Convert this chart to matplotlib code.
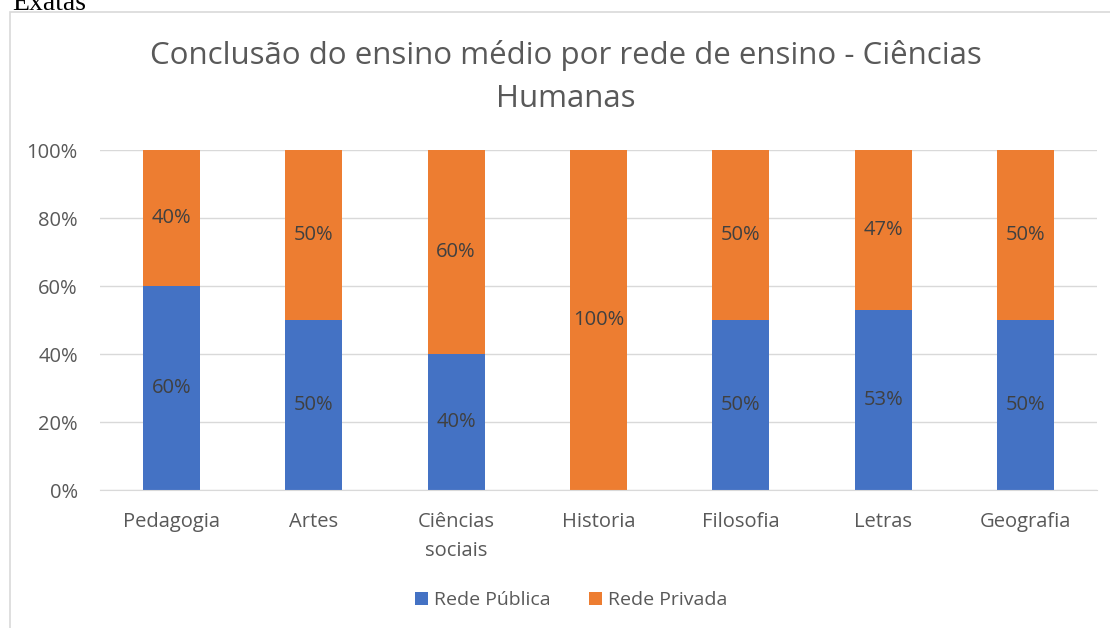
import matplotlib.pyplot as plt
import numpy as np
from matplotlib.patches import Rectangle

plt.rcParams['font.family'] = ['Open Sans', 'DejaVu Sans']

categorias = ["Pedagogia", "Artes", "Ciências\nsociais", "Historia", "Filosofia", "Letras", "Geografia"]
publica = [60, 50, 40, 0, 50, 53, 50]
privada = [40, 50, 60, 100, 50, 47, 50]
series = ["Rede Pública", "Rede Privada"]
cores = ["#4472C4", "#ED7D31"]

fig = plt.figure(figsize=(11.1, 6.28), dpi=100)
ax = fig.add_axes([100/1110, 1 - 490/628, 997/1110, 340/628])

x = np.arange(len(categorias))
largura = 0.4
b1 = ax.bar(x, publica, largura, color=cores[0], label=series[0], zorder=3)
b2 = ax.bar(x, privada, largura, bottom=publica, color=cores[1], label=series[1], zorder=3)

# rotulos de dados
for barras, vals, base in [(b1, publica, [0]*len(publica)), (b2, privada, publica)]:
    for b, v, s in zip(barras, vals, base):
        if v > 0:
            ax.text(b.get_x() + b.get_width()/2, s + v/2, f"{v}%", ha='center', va='center',
                    fontsize=14.5, color='#404040', zorder=4)

ax.set_xlim(-0.5, len(categorias) - 0.5)
ax.set_ylim(0, 100)
ax.set_yticks(np.arange(0, 101, 20))
ax.set_yticklabels([f"{v}%" for v in range(0, 101, 20)])
ax.set_xticks(x)
ax.set_xticklabels(categorias, linespacing=1.6)
ax.tick_params(axis='both', length=0, labelsize=14.5, colors='#595959')
ax.tick_params(axis='x', pad=16)
ax.tick_params(axis='y', pad=16)
ax.grid(axis='y', color='#d9d9d9', linewidth=1, zorder=0)
for s in ['top', 'right', 'left']:
    ax.spines[s].set_visible(False)
ax.spines['bottom'].set_color('#d9d9d9')
ax.spines['bottom'].set_zorder(5)

fig.text(566/1110, 1 - 77/628, "Conclusão do ensino médio por rede de ensino - Ciências\nHumanas",
         ha='center', va='center', fontsize=22.5, color='#595959', linespacing=1.55)

ax.legend(loc='center', bbox_to_anchor=(571/1110, 1 - 600/628), bbox_transform=fig.transFigure,
          ncol=2, frameon=False, fontsize=14, labelcolor='#595959', handlelength=0.65,
          handleheight=0.65, handletextpad=0.3, columnspacing=2.0)

# borda do grafico
fig.patches.append(Rectangle((10/1110, -0.1), 1.2, 1 - 12/628 + 0.1, transform=fig.transFigure,
                             fill=False, edgecolor='#d9d9d9', linewidth=1.2))
fig.text(12/1110, 1 - 10/628, "Exatas", family='Liberation Serif', fontsize=20,
         color='black', ha='left', va='baseline')

fig.savefig("out.png", dpi=100)
